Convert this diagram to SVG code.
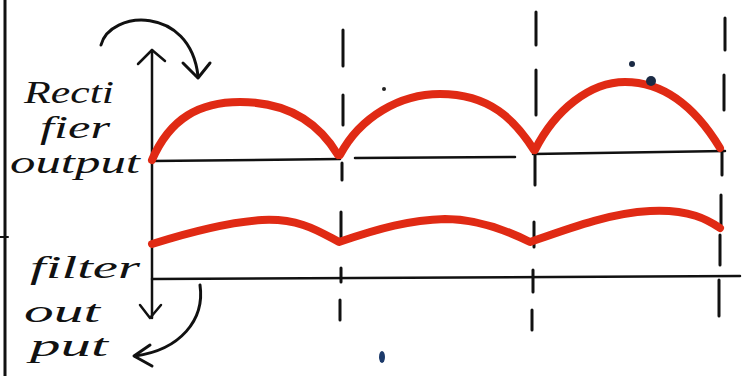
<svg xmlns="http://www.w3.org/2000/svg" width="744" height="376" viewBox="0 0 744 376">
<style>
.ink{stroke:#111;fill:none;stroke-linecap:round;stroke-linejoin:round}
.axis{stroke-width:2.5}
.dash{stroke-width:3}
.wave{stroke:#e02a14;fill:none;stroke-width:8;stroke-linecap:round;stroke-linejoin:round}
.lbl{font-family:"Liberation Serif",serif;font-style:italic;font-size:32px;fill:#111}
</style>
<rect width="744" height="376" fill="#fff"/>
<g id="frame">
<line class="ink" x1="5" y1="0" x2="5" y2="376" stroke-width="3"/>
<line class="ink" x1="0" y1="237" x2="8" y2="237" stroke-width="2"/>
</g>
<g id="axes">
<path class="ink axis" d="M152,50 L152,318"/>
<path class="ink axis" d="M138,64 L152,50 L165,61"/>
<path class="ink axis" d="M140,305 L150,318 L161,305"/>
<path class="ink axis" d="M152,161 L340,159 M355,158 L515,157 M533,154 L725,151"/>
<path class="ink axis" d="M152,279 L740,276"/>
</g>
<g id="dashes">
<path class="ink dash" d="M343,30 V66 M343,95 V125 M342,163 V180 M341,212 V243 M341,268 V282 M340,300 V320"/>
<path class="ink dash" d="M536,12 V45 M536,70 V115 M535,155 V185 M534,222 V247 M533,270 V292 M532,310 V330"/>
<path class="ink dash" d="M725,18 V50 M724,75 V110 M722,150 V175 M721,195 V225 M720,235 V265 M719,280 V316"/>
</g>
<g id="rectifier-output">
<path class="wave" d="M152,160 C170,118 200,102 240,102 C290,102 320,125 338,155"/>
<path class="wave" d="M340,155 C360,117 400,94 440,94 C490,94 515,120 534,150"/>
<path class="wave" d="M535,150 C555,110 590,82 625,82 C670,82 700,115 720,148"/>
</g>
<g id="filter-output">
<path class="wave" d="M152,244 C190,232 230,222 262,220 C300,218 320,232 339,242 C380,228 410,220 445,219 C480,219 510,232 530,242 C570,228 610,213 650,211 C690,209 708,220 720,228"/>
</g>
<g id="labels">
<text class="lbl" x="24" y="103" textLength="90" lengthAdjust="spacingAndGlyphs">Recti</text>
<text class="lbl" x="40" y="138" textLength="70" lengthAdjust="spacingAndGlyphs" font-size="30">fier</text>
<text class="lbl" x="10" y="173" textLength="130" lengthAdjust="spacingAndGlyphs">output</text>
<text class="lbl" x="30" y="278" textLength="110" lengthAdjust="spacingAndGlyphs">filter</text>
<text class="lbl" x="24" y="322" textLength="76" lengthAdjust="spacingAndGlyphs">out</text>
<text class="lbl" x="30" y="356" textLength="78" lengthAdjust="spacingAndGlyphs">put</text>
</g>
<g id="connectors">
<path class="ink" stroke-width="3" d="M101,45 C110,10 190,5 198,76"/>
<path class="ink" stroke-width="3" d="M183,63 L198,78 L210,63"/>
<path class="ink" stroke-width="3" d="M200,285 C205,320 180,350 135,356"/>
<path class="ink" stroke-width="3" d="M150,345 L134,356 L152,366"/>
</g>
<g id="marks">
<circle cx="651" cy="81" r="5" fill="#1a2a44"/>
<circle cx="632" cy="64" r="3" fill="#1a2a44"/>
<circle cx="384" cy="89" r="2" fill="#222"/>
<ellipse cx="382" cy="357" rx="3" ry="6" fill="#1c3a6a"/>
</g>
</svg>
